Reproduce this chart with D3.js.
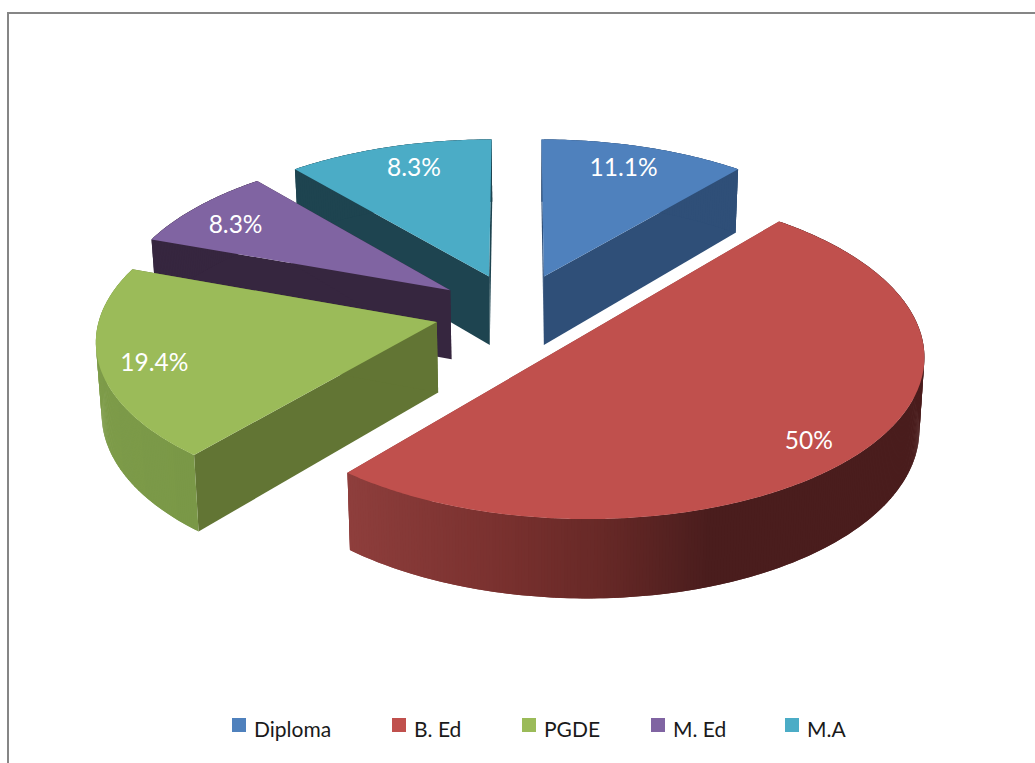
<!DOCTYPE html>
<html>
<head>
<meta charset="utf-8">
<script src="https://cdn.jsdelivr.net/npm/d3@7"></script>
<style>
  html, body { margin: 0; padding: 0; background: #fff; }
  svg { display: block; }
  text { font-family: Lato, "Open Sans", sans-serif; }
</style>
</head>
<body>
<div id="drawing"></div>
<script>
// chart data
var categories = ["Diploma", "B. Ed", "PGDE", "M. Ed", "M.A"];
var counts = [4, 18, 7, 3, 4];
// labels as printed on the chart (M.A really does say 8.3%)
var percentLabels = ["11.1%", "50%", "19.4%", "8.3%", "8.3%"];
var topColors = ["#4f81bd", "#c0504d", "#9bbb59", "#8064a2", "#4bacc6"];
var sideColors = ["#2f4f78", "#8f3f3d", "#627534", "#36263f", "#1e4450"];

// where each label sits inside its slice: compass angle and share of the radius
var labelAngles = [19, 134, 253, 303, 342];
var labelShares = [0.823, 0.857, 0.845, 0.818, 0.82];

var width = 1035;
var height = 763;
var view = {cx: 516.5, cy: 312, tilt: 0.47, distance: 3300, radius: 336, explode: 82, depth: 70, taper: 0.987, taperX: 540};
var legend = {xs: [232, 392, 522, 651, 785], y: 718, box: 14, textGap: 22, baseline: 737};

var drawing = d3.select("#drawing").append("svg")
  .attr("width", width)
  .attr("height", height);

var pie = d3.pie().sort(null).startAngle(0).endAngle(2 * Math.PI);
var slices = pie(counts).map(function (d, i) {
  d.name = categories[i];
  d.idx = i;
  d.mid = (d.startAngle + d.endAngle) / 2;
  return d;
});

var radiusScale = d3.scaleLinear().domain([0, 1]).range([0, view.radius]);
var degrees = d3.scaleLinear().domain([0, 360]).range([0, 2 * Math.PI]);

// shading of the curved wall, by compass angle; only red and green show theirs
var redWall = d3.scaleLinear()
  .domain([degrees(220), degrees(193), degrees(178), degrees(161), degrees(40)])
  .range(["#8f3f3d", "#7a312f", "#682927", "#4a1d1d", "#4a1d1d"]);
var greenWall = d3.scaleLinear()
  .domain([degrees(220), degrees(290)])
  .range(["#7a9847", "#82a04d"]);

function wallColor(d, angle) {
  if (d.idx === 1) return redWall(angle);
  if (d.idx === 2) return greenWall(angle);
  return sideColors[d.idx];
}

// ground plane -> screen, with a weak perspective towards the back of the pie
function project(gx, gy, lower) {
  var s = 1 / (1 - gy / view.distance);
  var sx = view.cx + gx * s;
  var sy = view.cy + gy * s * view.tilt;
  if (lower) {
    sx = view.taperX + (sx - view.taperX) * view.taper;
    sy += view.depth * s;
  }
  return [sx, sy];
}

function groundPoint(d, angle, share) {
  var r = radiusScale(share);
  return [
    view.explode * Math.sin(d.mid) + r * Math.sin(angle),
    -view.explode * Math.cos(d.mid) - r * Math.cos(angle)
  ];
}

function point(d, angle, share, lower) {
  var g = groundPoint(d, angle, share);
  return project(g[0], g[1], lower);
}

// half a degree per step along the rim
function rimAngles(d) {
  var n = Math.round((d.endAngle - d.startAngle) / degrees(0.5));
  return d3.range(0, n + 1).map(function (k) {
    return d.startAngle + (d.endAngle - d.startAngle) * k / n;
  });
}

var line = d3.line();

function closed(points) {
  return line(points) + "Z";
}

function sidePath(d, angle) {
  return closed([
    point(d, angle, 0, false),
    point(d, angle, 1, false),
    point(d, angle, 1, true),
    point(d, angle, 0, true)
  ]);
}

// back to front so nearer slices cover the ones behind
var paintOrder = [4, 0, 3, 2, 1];
var sliceGroups = drawing.append("g").attr("class", "pie")
  .selectAll("g")
  .data(paintOrder.map(function (i) { return slices[i]; }))
  .join("g")
  .attr("class", function (d) { return "slice slice" + d.idx; });

sliceGroups.append("path")
  .attr("d", function (d) { return sidePath(d, d.startAngle); })
  .attr("fill", function (d) { return sideColors[d.idx]; });

sliceGroups.append("path")
  .attr("d", function (d) { return sidePath(d, d.endAngle); })
  .attr("fill", function (d) { return sideColors[d.idx]; });

// curved wall as narrow strips, this keeps the silhouette straight at the tangent.
// each strip reaches over the next one so no seams show
sliceGroups.each(function (d) {
  var angles = rimAngles(d);
  var strips = angles.slice(0, -1).map(function (a, k) {
    return {a: a, b: angles[Math.min(k + 2, angles.length - 1)]};
  });
  // walk from the back of the pie to the front
  strips.sort(function (p, q) { return Math.cos(q.a) - Math.cos(p.a); });
  d3.select(this).append("g").attr("class", "wall")
    .selectAll("path")
    .data(strips)
    .join("path")
    .attr("d", function (s) {
      return closed([
        point(d, s.a, 1, false),
        point(d, s.b, 1, false),
        point(d, s.b, 1, true),
        point(d, s.a, 1, true)
      ]);
    })
    .attr("fill", function (s) { return wallColor(d, s.a); });
});

sliceGroups.append("path")
  .attr("d", function (d) {
    var rim = rimAngles(d).map(function (a) { return point(d, a, 1, false); });
    return closed([point(d, 0, 0, false)].concat(rim));
  })
  .attr("fill", function (d) { return topColors[d.idx]; });

// percent labels
drawing.append("g").attr("class", "labels")
  .selectAll("text")
  .data(slices)
  .join("text")
  .attr("transform", function (d, i) {
    var p = point(d, degrees(labelAngles[i]), labelShares[i], false);
    return "translate(" + p[0] + "," + p[1] + ")";
  })
  .attr("text-anchor", "middle")
  .attr("dy", "0.35em")
  .attr("fill", "#fff")
  .style("font-size", "24.5px")
  .text(function (d, i) { return percentLabels[i]; });

// legend
var legendItems = drawing.append("g").attr("class", "legend")
  .selectAll("g")
  .data(categories)
  .join("g")
  .attr("transform", function (d, i) { return "translate(" + legend.xs[i] + ",0)"; });

legendItems.append("rect")
  .attr("y", legend.y)
  .attr("width", legend.box)
  .attr("height", legend.box)
  .attr("fill", function (d, i) { return topColors[i]; });

legendItems.append("text")
  .attr("x", legend.textGap)
  .attr("y", legend.baseline)
  .attr("fill", "#1a1a1a")
  .style("font-size", "21px")
  .text(function (d) { return d; });

// chart frame, only top and left are inside the crop
drawing.append("path")
  .attr("d", line([[8, height], [8, 13], [width, 13]]))
  .attr("fill", "none")
  .attr("stroke", "#868686")
  .attr("stroke-width", 2);
</script>
</body>
</html>
